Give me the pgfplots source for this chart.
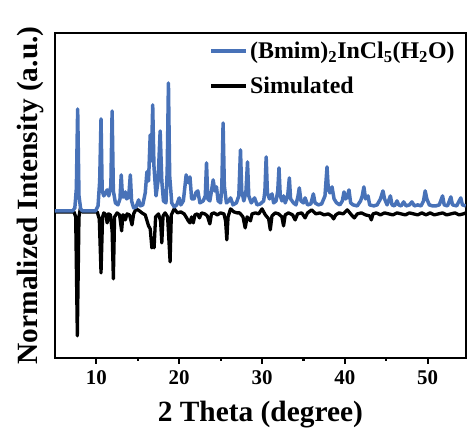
\documentclass[border=0pt]{standalone}
\usepackage{fontspec}
\setmainfont{Liberation Serif}
\usepackage{pgfplots}
\pgfplotsset{compat=1.18}
\definecolor{xrdblue}{RGB}{72,114,184}
\begin{document}
\begin{tikzpicture}
\begin{axis}[
  scale only axis,
  width=411bp, height=325bp,
  xmin=5, xmax=54.6,
  ymin=-147, ymax=178,
  xtick={10,20,30,40,50},
  minor xtick={15,25,35,45},
  ytick=\empty,
  xtick pos=bottom,
  tick align=outside,
  major tick length=6bp,
  minor tick length=3bp,
  every tick/.style={black, line width=2.2bp},
  axis line style={line width=2.5bp},
  /pgf/number format/assume math mode=true,
  tick label style={font=\bfseries\fontsize{21}{24}\selectfont},
  xticklabel style={yshift=-3bp},
  xlabel={2 Theta (degree)},
  ylabel={Normalized Intensity (a.u.)},
  label style={font=\bfseries\fontsize{29.5}{34}\selectfont},
  xlabel style={yshift=-10bp},
  ylabel style={yshift=2bp},
  legend style={draw=none, fill=none, at={(1,1)}, anchor=north east,
    xshift=-6bp, yshift=-5bp,
    font=\bfseries\fontsize{24}{27}\selectfont, row sep=13bp,
    cells={anchor=west}},
  legend image code/.code={\draw[#1, line width=3.5bp] (0bp,0bp) -- (35bp,0bp);},
]
\addplot[black, line width=3.3bp, line join=round, forget plot] coordinates {
(5,-1) (7.3,-1) (7.5,-6) (7.7,-125) (7.9,-6) (8.05,2) (8.3,-1) (10.1,-1) (10.35,-8) (10.56,-62) (10.75,-6) (10.9,-2) (11.15,-4) (11.3,-12) (11.45,-3) (11.7,-4) (11.9,-20) (12.05,-68) (12.2,-6) (12.5,-2) (12.8,-4) (13.05,-20) (13.2,-4) (13.4,-5) (13.5,-9) (13.7,-3) (14.0,-4) (14.3,-14) (14.5,-3) (14.8,2) (15.2,0) (15.5,-2) (15.9,-4) (16.3,-15) (16.5,-18) (16.7,-37) (16.85,-30) (16.97,-37) (17.15,-6) (17.5,-3) (17.75,-10) (17.9,-32) (18.05,-5) (18.3,-2) (18.6,-6) (18.9,-51) (19.05,-4) (19.4,2) (19.8,-2) (20.2,-1) (20.6,-3) (20.9,-7) (21.1,-10) (21.3,-12) (21.5,-6) (21.7,-12) (21.9,-4) (22.2,-3) (22.45,-7) (22.7,-2) (23.1,-3) (23.4,-5) (23.7,-13) (23.9,-3) (24.2,-2) (24.6,-4) (25.0,-2) (25.4,-3) (25.6,-10) (25.75,-29) (25.9,-6) (26.2,2) (26.6,-1) (27.0,-2) (27.3,-2) (27.7,-6) (27.97,-17) (28.2,-6) (28.6,-10) (28.8,-3) (29.2,-2) (29.6,-3) (30.0,2) (30.4,-4) (30.8,-8) (31.0,-19) (31.2,-5) (31.6,-2) (32.0,-3) (32.4,-6) (32.6,-15) (32.8,-4) (33.2,-2) (33.7,-4) (34.0,-9) (34.3,-3) (34.8,-2) (35.2,-7) (35.5,-2) (36.0,1) (36.5,-3) (37.0,-2) (37.5,-4) (38.0,-3) (38.4,-5) (38.65,-8) (38.9,-4) (39.3,-2) (39.8,-3) (40.3,1) (40.8,-4) (41.15,-7) (41.5,-3) (42.0,-2) (42.5,-4) (43.0,-5) (43.2,-9) (43.4,-3) (43.8,-2) (44.3,-4) (44.8,-2) (45.3,-3) (45.8,-4) (46.3,-2) (46.8,-3) (47.3,-4) (47.8,-2) (48.3,-3) (48.8,-4) (49.3,-2) (49.8,-4) (50.3,-2) (50.8,-4) (51.3,-3) (51.8,-2) (52.3,-4) (52.8,-3) (53.3,-2) (53.8,-4) (54.3,-3) (54.6,-2)
};
\addplot[xrdblue, line width=3.5bp, line join=round] coordinates {
(5,0) (7.15,0) (7.4,3) (7.58,22) (7.74,102) (7.9,15) (8.1,2) (8.3,0) (9.9,0) (10.2,5) (10.4,30) (10.56,92) (10.7,20) (10.9,15) (11.1,18) (11.3,21) (11.5,15) (11.75,25) (11.9,100) (12.05,20) (12.3,8) (12.6,6) (12.85,12) (13.0,36) (13.15,14) (13.35,14) (13.5,19) (13.65,12) (13.9,14) (14.1,36) (14.25,10) (14.5,3) (14.8,4) (15.1,11) (15.3,5) (15.6,6) (15.9,18) (16.1,39) (16.3,30) (16.5,76) (16.65,50) (16.8,106) (16.95,45) (17.2,15) (17.45,30) (17.7,80) (17.9,30) (18.1,10) (18.4,8) (18.55,40) (18.7,128) (18.85,35) (19.1,8) (19.4,4) (19.7,6) (20.0,13) (20.2,6) (20.5,10) (20.7,25) (20.84,36) (21.0,30) (21.15,28) (21.3,34) (21.5,12) (21.8,12) (22.0,18) (22.25,20) (22.5,8) (22.9,10) (23.15,15) (23.3,48) (23.45,12) (23.7,10) (23.9,20) (24.1,31) (24.3,20) (24.5,24) (24.7,10) (25.0,8) (25.15,25) (25.3,88) (25.45,25) (25.7,8) (26.0,10) (26.2,13) (26.5,6) (26.9,8) (27.2,15) (27.4,61) (27.55,20) (27.8,10) (28.05,18) (28.25,49) (28.4,15) (28.7,8) (29.1,13) (29.4,6) (29.8,7) (30.2,10) (30.35,20) (30.5,54) (30.65,18) (30.9,12) (31.2,17) (31.4,8) (31.7,10) (31.9,20) (32.05,43) (32.2,15) (32.4,10) (32.6,15) (32.8,8) (33.1,15) (33.3,33) (33.45,12) (33.8,8) (34.1,6) (34.35,15) (34.5,23) (34.7,10) (35.0,8) (35.2,13) (35.5,6) (35.9,7) (36.2,17) (36.4,8) (36.8,6) (37.2,7) (37.6,15) (37.85,44) (38.0,22) (38.2,18) (38.45,24) (38.7,12) (39.0,8) (39.4,6) (39.7,10) (39.9,19) (40.1,12) (40.3,14) (40.5,21) (40.7,8) (41.0,6) (41.5,5) (41.9,10) (42.1,15) (42.3,24) (42.5,12) (42.8,15) (43.0,6) (43.5,5) (43.9,6) (44.3,12) (44.6,20) (44.8,12) (45.1,6) (45.5,15) (45.7,6) (46.0,5) (46.3,10) (46.5,6) (46.8,5) (47.1,9) (47.4,5) (47.8,6) (48.1,9) (48.4,5) (48.8,6) (49.2,5) (49.5,10) (49.7,20) (49.9,12) (50.2,6) (50.6,5) (51.0,5) (51.4,6) (51.8,15) (52.0,6) (52.4,5) (52.8,14) (53.0,6) (53.5,5) (54.0,13) (54.2,6) (54.6,5)
};
\addlegendentry{(Bmim)\textsubscript{2}InCl\textsubscript{5}(H\textsubscript{2}O)}
\addlegendimage{black}
\addlegendentry{Simulated}
\end{axis}
\path (current axis.south west) +(-55bp,-72bp) (current axis.north east) +(1bp,33bp);
\end{tikzpicture}
\end{document}
